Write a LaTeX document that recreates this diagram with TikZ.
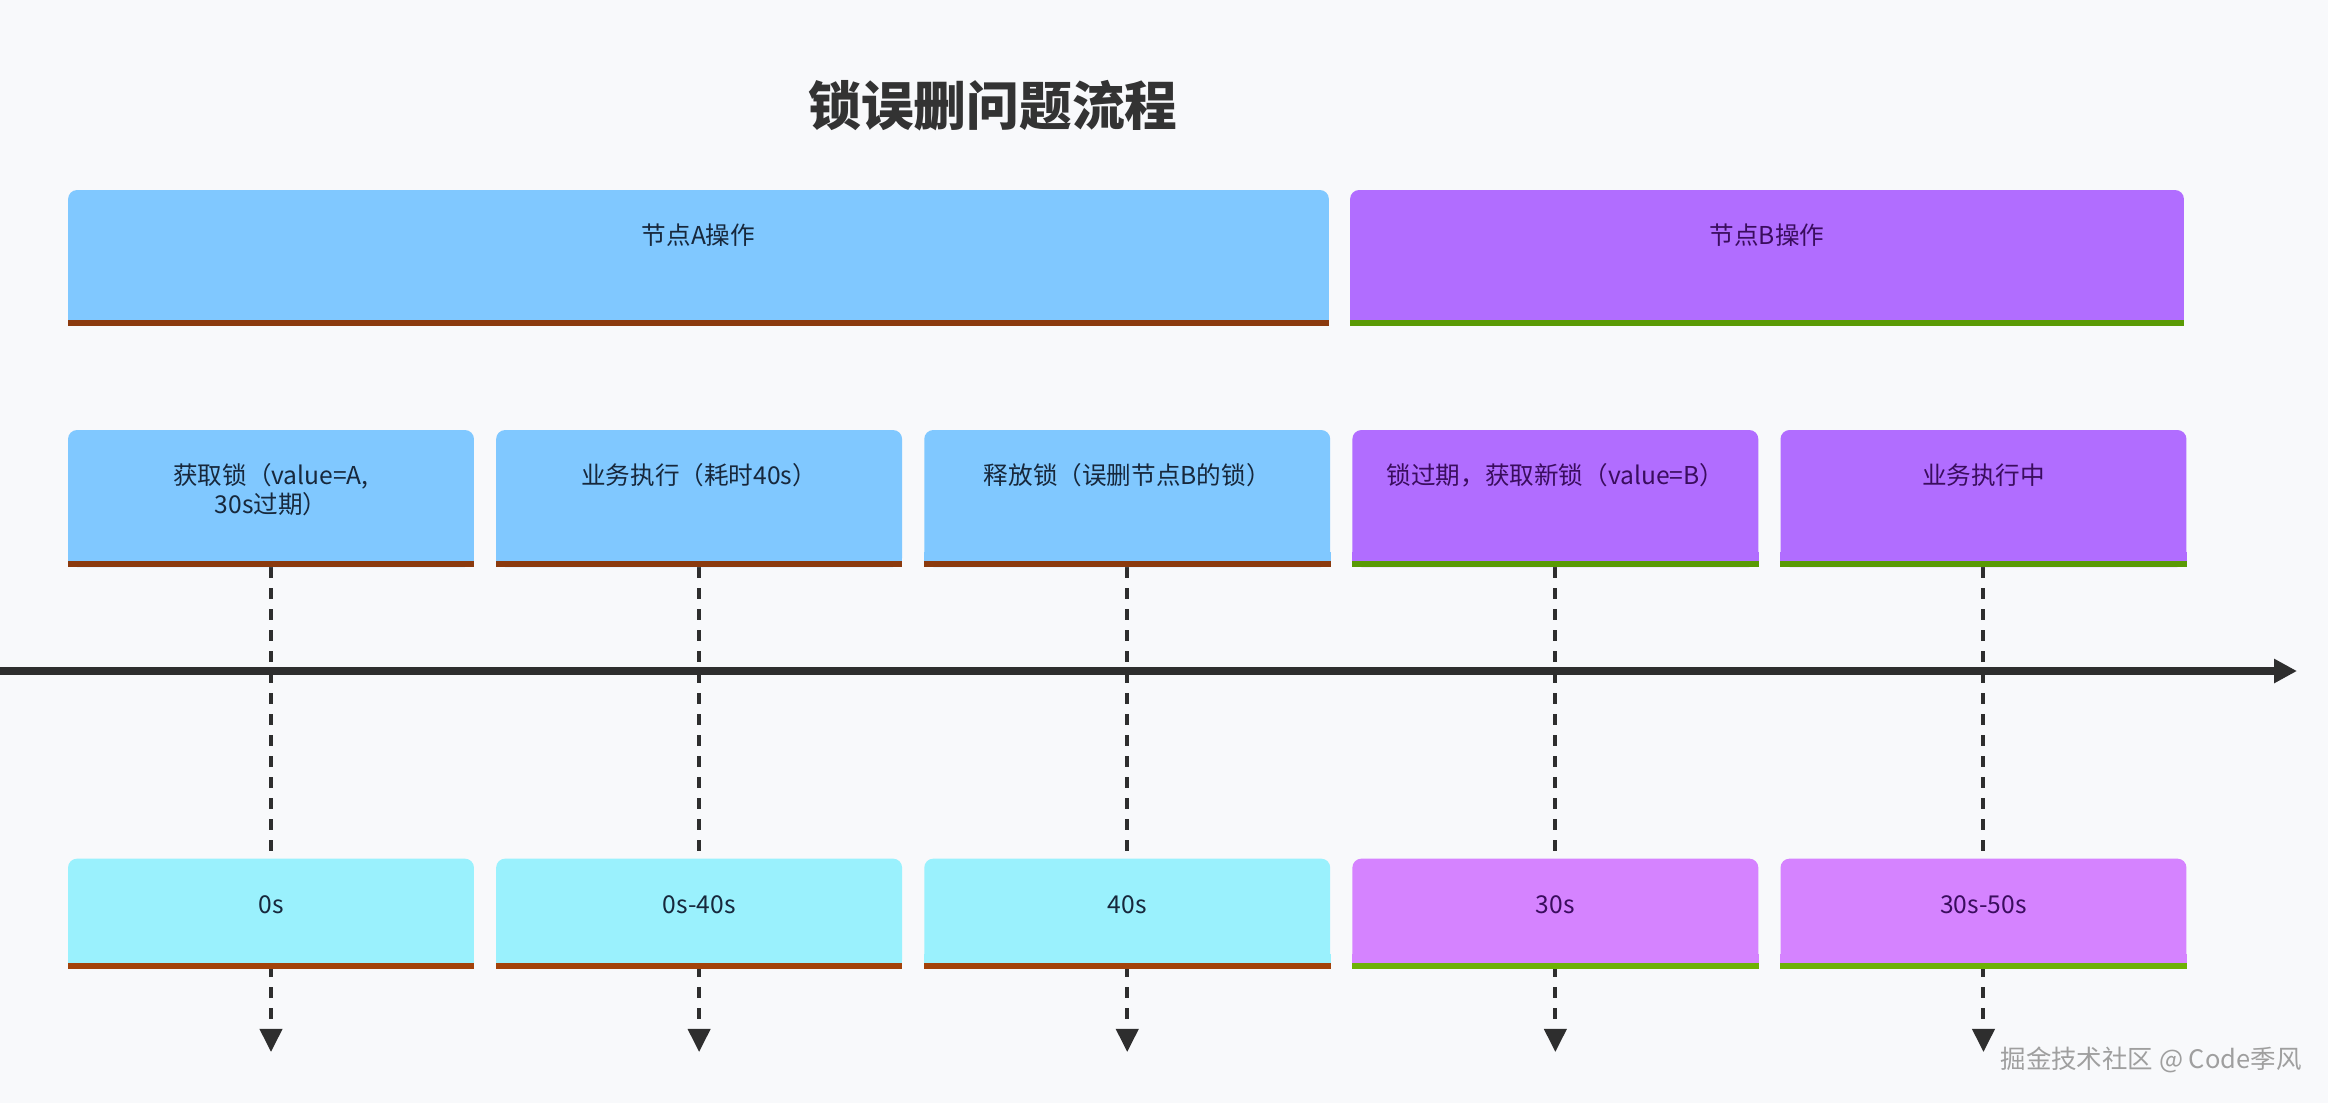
\documentclass[tikz,border=0pt]{standalone}
\usepackage{fontspec}
\setmainfont{Noto Sans CJK SC}
\usetikzlibrary{arrows.meta, positioning, backgrounds}

\definecolor{pagebg}{HTML}{F8F9FB}
\definecolor{titlegray}{HTML}{333333}
\definecolor{axisgray}{HTML}{2E2E2E}
\definecolor{nodeAfill}{HTML}{80C8FF}
\definecolor{nodeBfill}{HTML}{B16DFF}
\definecolor{timeAfill}{HTML}{9AF1FD}
\definecolor{timeBfill}{HTML}{D583FF}
\definecolor{brownS}{HTML}{8B3A0E}
\definecolor{brownL}{HTML}{A3420A}
\definecolor{greenS}{HTML}{5A9A05}
\definecolor{greenL}{HTML}{6EB106}
\definecolor{textA}{HTML}{17283C}
\definecolor{textB}{HTML}{3A0D5E}

\begin{document}
\begin{tikzpicture}[
    x=0.02cm, y=-0.02cm,
    stage/.style={rounded corners=0.18cm, inner sep=0pt, minimum width=8.12cm, text height=1.09cm, align=center, font=\fontsize{14}{16.5}\selectfont},
    opA/.style={stage, fill=nodeAfill, text=textA, text depth=1.65cm},
    opB/.style={stage, fill=nodeBfill, text=textB, text depth=1.65cm},
    spanA/.style={stage, fill=timeAfill, text=textA, text depth=1.11cm},
    spanB/.style={stage, fill=timeBfill, text=textB, text depth=1.11cm},
    guide/.style={draw=axisgray, line width=0.08cm, dash pattern=on 0.22cm off 0.2cm, -{Triangle[length=0.46cm, width=0.44cm]}}
  ]
  \useasboundingbox (0,0) rectangle (2328,1103);

  % Title
  \node[font=\fontsize{30}{36}\selectfont\bfseries, text=titlegray, inner sep=0pt] (title) at (993,106) {锁误删问题流程};

  % Node headers
  \node[opA, minimum width=25.22cm, text depth=1.63cm] (hdrA) at (698.5,258) {节点A操作};
  \node[opB, minimum width=16.68cm, text depth=1.63cm] (hdrB) at (1767,258) {节点B操作};

  % Operations
  \node[opA, text height=1.67cm, text depth=1.07cm] (op1) at (271,498.5) {获取锁（value=A,\\30s过期）};
  \node[opA, right=0.43cm of op1] (op2) {业务执行（耗时40s）};
  \node[opA, right=0.43cm of op2] (op3) {释放锁（误删节点B的锁）};
  \node[opB, right=0.43cm of op3] (op4) {锁过期，获取新锁（value=B）};
  \node[opB, right=0.43cm of op4] (op5) {业务执行中};

  % Time spans
  \node[spanA, below=5.82cm of op1] (span1) {0s};
  \node[spanA, below=5.82cm of op2] (span2) {0s-40s};
  \node[spanA, below=5.82cm of op3] (span3) {40s};
  \node[spanB, below=5.82cm of op4] (span4) {30s};
  \node[spanB, below=5.82cm of op5] (span5) {30s-50s};

  % square bottoms and stripes
  \foreach \n/\c/\s in {hdrA/nodeAfill/brownS, hdrB/nodeBfill/greenS,
      op1/nodeAfill/brownS, op2/nodeAfill/brownS, op3/nodeAfill/brownS, op4/nodeBfill/greenS, op5/nodeBfill/greenS,
      span1/timeAfill/brownL, span2/timeAfill/brownL, span3/timeAfill/brownL, span4/timeBfill/greenL, span5/timeBfill/greenL}{
    \fill[\c] ([yshift=0.3cm]\n.south west) rectangle (\n.south east);
    \fill[\s] ([yshift=0.12cm]\n.south west) rectangle (\n.south east);
  }

  % Guides behind the time spans
  \begin{scope}[on background layer]
    \fill[pagebg] (0,0) rectangle (2328,1103);
    \foreach \i in {1,...,5}{
      \coordinate (end\i) at ([yshift=-1.66cm]span\i.south);
      \draw[guide] (op\i.south) -- (end\i);
    }
  \end{scope}

  % Timeline
  \coordinate (t0) at (0,671);
  \coordinate (t1) at (2297,671);
  \draw[axisgray, line width=0.16cm, -{Triangle[length=0.46cm, width=0.46cm]}] (t0) -- (t1);

  \node[font=\fontsize{14.5}{16}\selectfont, text=gray!75] (mark) at (2151,1060) {掘金技术社区 @ Code季风};
\end{tikzpicture}
\end{document}
